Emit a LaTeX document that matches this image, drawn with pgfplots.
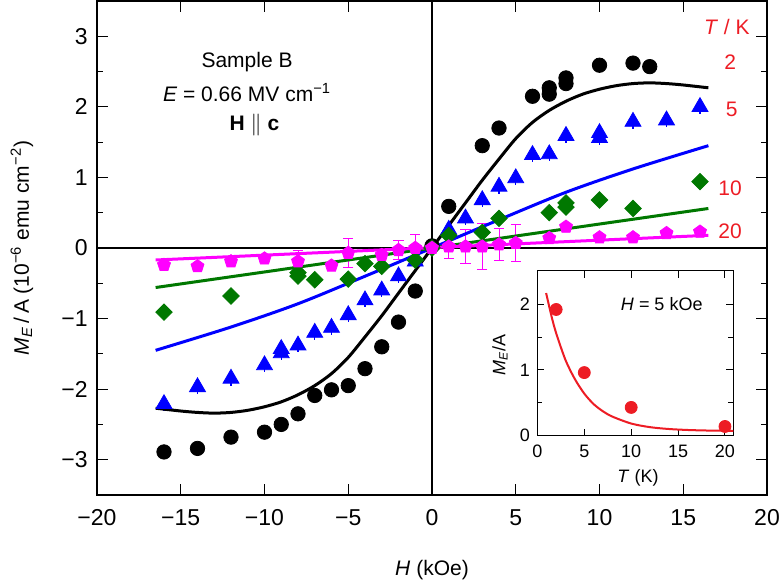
\documentclass[border=0pt]{standalone}
\usepackage{fontspec}
\setmainfont{Liberation Sans}
\usepackage{pgfplots}
\pgfplotsset{compat=1.18}
\definecolor{myred}{RGB}{237,28,36}
\definecolor{mygreen}{RGB}{0,120,0}
\definecolor{myblue}{RGB}{0,0,255}
\definecolor{mymag}{RGB}{255,0,255}
\begin{document}
\fontsize{10.5pt}{12pt}\selectfont
\begin{tikzpicture}
\path[use as bounding box] (-48.5pt,-43.5pt) rectangle (342pt,247.5pt);
\begin{axis}[
  at={(0pt,0pt)}, anchor=south west,
  scale only axis, width=335pt, height=247pt,
  xmin=-20, xmax=20, ymin=-3.5, ymax=3.5,
  xtick={-20,-15,...,20},
  xticklabels={−20,−15,−10,−5,0,5,10,15,20},
  ytick={-3,-2,...,3},
  yticklabels={−3,−2,−1,0,1,2,3},
  minor ytick={-2.5,-1.5,...,2.5},
  tick align=inside,
  major tick length=5.5pt, minor tick length=3pt,
  tick style={black, line width=0.6pt},
  axis line style={line width=0.8pt},
  ticklabel style={font=\fontsize{11.5}{13}\selectfont},
  xticklabel style={yshift=-3.5pt},
  yticklabel style={xshift=-1pt},
  clip=false,
]
\addplot[black, line width=0.6pt] coordinates {(-20,0) (20,0)};
\addplot[black, line width=0.6pt] coordinates {(0,-3.5) (0,3.5)};
% T = 2 K
\addplot[only marks, mark=*, mark size=3.6pt, black] coordinates {
(-16,-2.89)(-14,-2.84)(-12,-2.68)(-10,-2.61)(-9,-2.50)(-8,-2.35)(-7,-2.09)(-6,-2.01)(-5,-1.95)(-4,-1.71)(-3,-1.40)(-2,-1.05)(-1,-0.61)(0,0.03)(1,0.59)(3,1.45)(4,1.70)(6,2.15)(7,2.18)(7,2.27)(8,2.33)(8,2.41)(10,2.59)(12,2.62)(13,2.57)};
% T = 5 K
\addplot[only marks, mark=triangle*, mark size=4.6pt, myblue,
  error bars/.cd, y dir=both, y explicit, error mark=none,
  error bar style={line width=0.6pt, myblue}] coordinates {
(-16,-2.21) +- (0,0.1) (-14,-1.97) +- (0,0.1) (-12,-1.85) +- (0,0.1) (-10,-1.66) +- (0,0.1) (-9,-1.49) +- (0,0.1) (-9,-1.43) +- (0,0.1) (-8,-1.38) +- (0,0.1) (-7,-1.20) +- (0,0.1) (-6,-1.13) +- (0,0.1) (-5,-0.95) +- (0,0.1) (-4,-0.74) +- (0,0.1) (-3,-0.60) +- (0,0.1) (-2,-0.40) +- (0,0.1) (-1,-0.19) +- (0,0.1) (1,0.26) +- (0,0.1) (2,0.42) +- (0,0.1) (3,0.68) +- (0,0.1) (4,0.87) +- (0,0.1) (5,0.99) +- (0,0.1) (6,1.32) +- (0,0.1) (7,1.33) +- (0,0.1) (8,1.59) +- (0,0.1) (10,1.63) +- (0,0.1) (10,1.56) +- (0,0.1) (12,1.79) +- (0,0.1) (14,1.81) +- (0,0.1) (16,2.00) +- (0,0.1)};
% T = 10 K
\addplot[only marks, mark=square*, mark size=2.9pt, mygreen, mark options={rotate=45}] coordinates {
(-16,-0.91)(-12,-0.68)(-8,-0.35)(-8,-0.40)(-7,-0.45)(-5,-0.44)(-4,-0.22)(-3,-0.26)(-1,-0.17)(0,0)(1,0.18)(3,0.22)(4,0.42)(7,0.50)(8,0.58)(8,0.64)(10,0.68)(12,0.56)(16,0.94)};
% T = 20 K
\addplot[only marks, mark=pentagon*, mark size=3.4pt, mymag,
  error bars/.cd, y dir=both, y explicit,
  error bar style={line width=0.5pt, mymag},
  error mark options={rotate=90, mark size=2.6pt, line width=0.5pt, mymag}] coordinates {
(-16,-0.24) +- (0,0) (-14,-0.26) +- (0,0) (-12,-0.19) +- (0,0) (-10,-0.15) +- (0,0) (-8,-0.19) +- (0,0.16) (-6,-0.25) +- (0,0) (-5,-0.07) +- (0,0.21) (-3,-0.10) +- (0,0) (-2,-0.03) +- (0,0.13) (-1,0.0) +- (0,0.19) (0,0) +- (0,0) (1,0.02) +- (0,0.17) (2,0.02) +- (0,0.24) (3,0.02) +- (0,0.33) (4,0.05) +- (0,0.23) (5,0.07) +- (0,0.26) (7,0.14) +- (0,0) (8,0.30) +- (0,0) (10,0.15) +- (0,0) (12,0.15) +- (0,0) (14,0.21) +- (0,0) (16,0.23) +- (0,0)};
% fit lines
\addplot[black, line width=1.5pt, smooth] coordinates {
(-16.5,-2.27)(-15,-2.31)(-14,-2.33)(-13,-2.34)(-12,-2.33)(-11,-2.30)(-10,-2.25)(-9,-2.18)(-8,-2.08)(-7,-1.95)(-6,-1.78)(-5,-1.55)(-4,-1.26)(-3,-0.96)(-2,-0.64)(-1,-0.32)(0,0)
(1,0.32)(2,0.64)(3,0.96)(4,1.26)(5,1.55)(6,1.78)(7,1.95)(8,2.08)(9,2.18)(10,2.25)(11,2.30)(12,2.33)(13,2.34)(14,2.33)(15,2.31)(16.5,2.27)};
\addplot[myblue, line width=1.5pt, smooth] coordinates {
(-16.5,-1.45)(-12,-1.12)(-8,-0.79)(-4,-0.40)(0,0)(4,0.40)(8,0.79)(12,1.12)(16.5,1.45)};
\addplot[mygreen, line width=1.5pt] coordinates {(-16.5,-0.56)(16.5,0.56)};
\addplot[mymag, line width=1.5pt] coordinates {(-16.5,-0.17)(16.5,0.18)};
% annotations
\node at (axis cs:-11.04,2.64) {Sample B};
\node at (axis cs:-11.04,2.20) {\textit{E} = 0.66 MV cm\textsuperscript{−1}};
\node at (axis cs:-10.6,1.745) {\textbf{H} $\parallel$ \textbf{c}};
\node[myred] at (axis cs:17.6,3.13) {\textit{T} / K};
\node[myred] at (axis cs:17.8,2.64) {2};
\node[myred] at (axis cs:17.9,1.96) {5};
\node[myred] at (axis cs:17.8,0.85) {10};
\node[myred] at (axis cs:17.8,0.23) {20};
\end{axis}
\node[rotate=90] at (-37.5pt,123.5pt) {\textit{M}\textsubscript{\textit{E}}\,/\,A (10\textsuperscript{−6} emu cm\textsuperscript{−2})};
\node at (167.5pt,-37.5pt) {\textit{H} (kOe)};
% inset
\begin{axis}[
  at={(220.2pt,29.65pt)}, anchor=south west,
  scale only axis, width=98pt, height=82.5pt,
  xmin=0, xmax=20.9, ymin=0, ymax=2.51,
  xtick={0,5,...,20}, xticklabels={0,5,10,15,20},
  ytick={0,1,2}, yticklabels={0,1,2},
  minor ytick={0.5,1.5},
  tick align=inside,
  major tick length=3.5pt, minor tick length=2.5pt,
  tick style={black, line width=0.5pt},
  axis line style={line width=0.6pt},
  axis background/.style={fill=white},
  ticklabel style={font=\fontsize{9}{10}\selectfont},
  xticklabel style={yshift=-1pt},
  clip=false,
]
\addplot[myred, line width=1pt, smooth] coordinates {
(0.93,2.17)(1.5,1.82)(2,1.56)(3,1.15)(4,0.86)(5,0.64)(6,0.48)(7,0.37)(8,0.29)(10,0.185)(12,0.13)(14,0.102)(16,0.087)(18,0.079)(20.9,0.073)};
\addplot[only marks, mark=*, mark size=3pt, myred] coordinates {(2,1.92)(5,0.96)(10,0.43)(20,0.14)};
\node[font=\fontsize{9}{10}\selectfont] at (axis cs:13.26,2.0) {\textit{H} = 5 kOe};
\end{axis}
\node[rotate=90, font=\fontsize{9}{10}\selectfont] at (201.5pt,70pt) {\textit{M}\textsubscript{\textit{E}}/A};
\node[font=\fontsize{9}{10}\selectfont] at (270.5pt,8.5pt) {\textit{T} (K)};
\end{tikzpicture}
\end{document}
